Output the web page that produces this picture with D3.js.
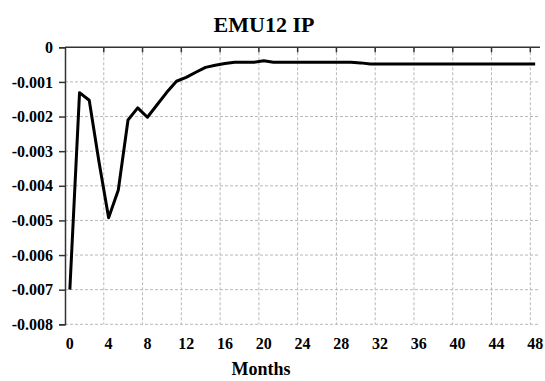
<!DOCTYPE html>
<html>
<head>
<meta charset="utf-8">
<script src="https://cdn.jsdelivr.net/npm/d3@7"></script>
<style>
  body { margin: 0; background: #fff; }
  text { font-family: "Liberation Serif", "Times New Roman", serif; font-weight: bold; fill: #000; }
</style>
</head>
<body>
<div id="chart"></div>
<script>
const width = 545, height = 381;

// response of EMU12 industrial production, months 0..48
const months = d3.range(0, 49);
const ip = [
  -0.0070, -0.00131, -0.00153, -0.0033, -0.00492, -0.00412, -0.0021, -0.00175,
  -0.00202, -0.00166, -0.00130, -0.00098, -0.00087, -0.00072, -0.00058, -0.00052,
  -0.00047, -0.00043, -0.00043, -0.00043, -0.00039, -0.00043, -0.00043, -0.00043,
  -0.00043, -0.00043, -0.00043, -0.00043, -0.00043, -0.00043, -0.00045, -0.00048,
  -0.00048, -0.00048, -0.00048, -0.00048, -0.00048, -0.00048, -0.00048, -0.00048,
  -0.00048, -0.00048, -0.00048, -0.00048, -0.00048, -0.00048, -0.00048, -0.00048,
  -0.00048
];
const xTicks = [0, 4, 8, 12, 16, 20, 24, 28, 32, 36, 40, 44, 48];
const yTicks = [0, -0.001, -0.002, -0.003, -0.004, -0.005, -0.006, -0.007, -0.008];

const plot = { left: 65, right: 540, top: 47.3, bottom: 324.3 };

const svg = d3.select("#chart")
  .append("svg")
  .attr("width", width)
  .attr("height", height);

const x = d3.scaleBand().domain(months).range([plot.left, plot.right]).padding(0);
const y = d3.scaleLinear().domain([-0.008, 0]).range([plot.bottom, plot.top]);
const cx = m => x(m) + x.bandwidth() / 2;

// dashed grid
const grid = svg.append("g")
  .attr("stroke", "#b8b8b8")
  .attr("stroke-width", 1)
  .attr("stroke-dasharray", "3,2");

grid.selectAll("line.v")
  .data(xTicks.filter(d => d > 0))
  .join("line")
  .attr("class", "v")
  .attr("x1", d => x(d)).attr("x2", d => x(d))
  .attr("y1", plot.top).attr("y2", plot.bottom);

grid.selectAll("line.h")
  .data(yTicks.filter(d => d < 0))
  .join("line")
  .attr("class", "h")
  .attr("x1", plot.left).attr("x2", plot.right)
  .attr("y1", d => y(d)).attr("y2", d => y(d));

// zero line with ticks pointing down
const zero = svg.append("g").attr("stroke", "#333").attr("stroke-width", 1.5);
zero.append("line")
  .attr("x1", plot.left).attr("x2", plot.right)
  .attr("y1", y(0)).attr("y2", y(0));
zero.selectAll("line.t")
  .data(xTicks.filter(d => d > 0))
  .join("line")
  .attr("class", "t")
  .attr("x1", d => x(d)).attr("x2", d => x(d))
  .attr("y1", y(0)).attr("y2", y(0) + 5);

// left axis
const yAxis = svg.append("g")
  .attr("transform", `translate(${plot.left},0)`)
  .call(d3.axisLeft(y).tickValues(yTicks).tickSize(6).tickPadding(6)
    .tickFormat(d => d === 0 ? "0" : d3.format(".3f")(d).replace("−", "-")));
yAxis.select(".domain").attr("stroke", "#333").attr("stroke-width", 1.5);
yAxis.selectAll(".tick line").attr("stroke", "#333").attr("stroke-width", 1.5);
yAxis.selectAll("text").style("font-size", "16px").attr("fill", "#000");

// x tick labels at category centres
svg.append("g")
  .selectAll("text")
  .data(xTicks)
  .join("text")
  .attr("x", d => cx(d))
  .attr("y", 349)
  .attr("text-anchor", "middle")
  .style("font-size", "16px")
  .text(d => d);

// response line
svg.append("path")
  .datum(ip)
  .attr("fill", "none")
  .attr("stroke", "#000")
  .attr("stroke-width", 3)
  .attr("stroke-linejoin", "round")
  .attr("d", d3.line().x((d, i) => cx(months[i])).y(d => y(d)));

svg.append("text")
  .attr("x", 264).attr("y", 31.5)
  .attr("text-anchor", "middle")
  .style("font-size", "22px")
  .text("EMU12 IP");

svg.append("text")
  .attr("x", 261).attr("y", 375)
  .attr("text-anchor", "middle")
  .style("font-size", "18px")
  .text("Months");
</script>
</body>
</html>
